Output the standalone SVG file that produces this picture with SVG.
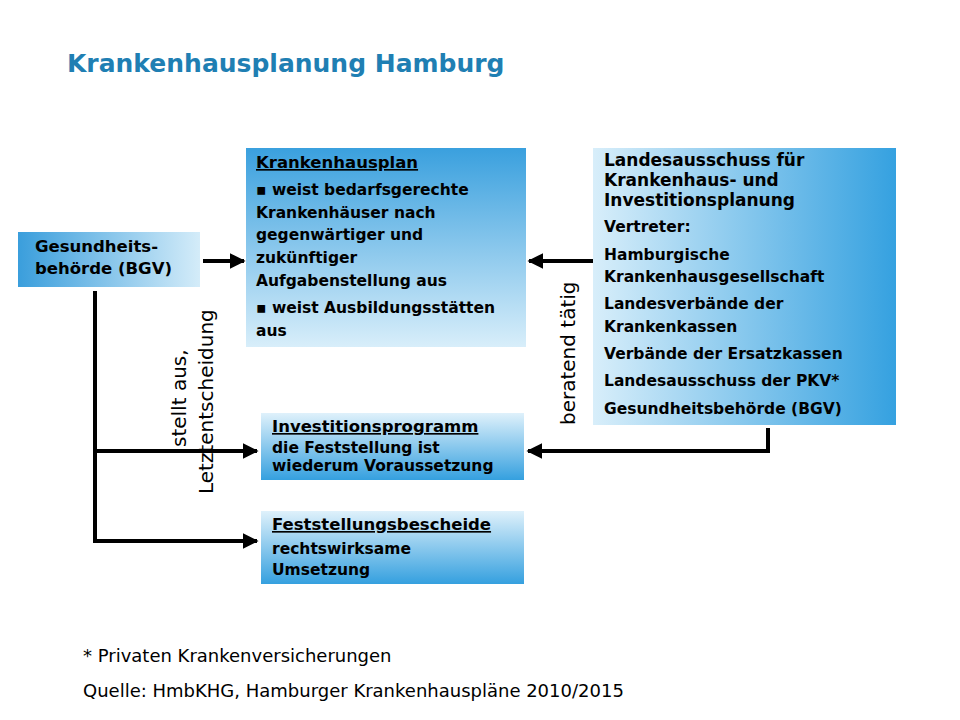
<svg xmlns="http://www.w3.org/2000/svg" width="960" height="720" viewBox="0 0 960 720">
<defs>
<linearGradient id="gh" x1="0" y1="0" x2="1" y2="0"><stop offset="0" stop-color="#3a9edc"/><stop offset="1" stop-color="#d4ecf9"/></linearGradient>
<linearGradient id="ghr" x1="0" y1="0" x2="1" y2="0"><stop offset="0" stop-color="#d8eefa"/><stop offset="1" stop-color="#35a1e0"/></linearGradient>
<linearGradient id="gvd" x1="0" y1="0" x2="0" y2="1"><stop offset="0" stop-color="#3aa0de"/><stop offset="1" stop-color="#d8eefa"/></linearGradient>
<linearGradient id="gvu" x1="0" y1="0" x2="0" y2="1"><stop offset="0" stop-color="#dff1fb"/><stop offset="1" stop-color="#35a0df"/></linearGradient>
<marker id="ah" viewBox="0 0 10 10" refX="9" refY="5" markerWidth="4" markerHeight="4" orient="auto"><path d="M0,0L10,5L0,10z" fill="#000"/></marker>
</defs>
<style>
text{font-family:"DejaVu Sans","Open Sans",sans-serif;fill:#000}
.t{font-size:15.5px;font-weight:bold}
.h{font-size:16.5px;font-weight:bold;text-decoration:underline}
.c{fill:none;stroke:#000;stroke-width:4}
.f{font-size:18px}
.r{font-size:20px}
</style>
<rect width="960" height="720" fill="#fff"/>
<text x="67" y="72" style="font-size:25px;font-weight:bold;fill:#1f7fb3">Krankenhausplanung Hamburg</text>
<g id="gesund"><rect x="18" y="232" width="182" height="55" fill="url(#gh)"/>
<text class="t" x="35" y="252" style="font-size:16.5px">Gesundheits-</text><text class="t" x="35" y="274" style="font-size:16.5px">behörde (BGV)</text></g>
<g id="khplan"><rect x="246" y="148" width="280" height="199" fill="url(#gvd)"/>
<text class="h" x="256" y="168">Krankenhausplan</text>
<text class="t" x="256" y="195">▪ weist bedarfsgerechte</text>
<text class="t" x="256" y="218">Krankenhäuser nach</text>
<text class="t" x="256" y="240">gegenwärtiger und</text>
<text class="t" x="256" y="263">zukünftiger</text>
<text class="t" x="256" y="286">Aufgabenstellung aus</text>
<text class="t" x="256" y="313">▪ weist Ausbildungsstätten</text>
<text class="t" x="256" y="336">aus</text></g>
<g id="landes"><rect x="593" y="148" width="303" height="277" fill="url(#ghr)"/>
<text class="t" x="604" y="166" style="font-size:17px">Landesausschuss für</text>
<text class="t" x="604" y="186" style="font-size:17px">Krankenhaus- und</text>
<text class="t" x="604" y="206" style="font-size:17px">Investitionsplanung</text>
<text class="t" x="604" y="232">Vertreter:</text>
<text class="t" x="604" y="260">Hamburgische</text>
<text class="t" x="604" y="282">Krankenhausgesellschaft</text>
<text class="t" x="604" y="309">Landesverbände der</text>
<text class="t" x="604" y="332">Krankenkassen</text>
<text class="t" x="604" y="359">Verbände der Ersatzkassen</text>
<text class="t" x="604" y="386">Landesausschuss der PKV*</text>
<text class="t" x="604" y="414">Gesundheitsbehörde (BGV)</text></g>
<g id="invest"><rect x="261" y="413" width="263" height="67" fill="url(#gvu)"/>
<text class="h" x="272" y="432">Investitionsprogramm</text>
<text class="t" x="272" y="453">die Feststellung ist</text>
<text class="t" x="272" y="471">wiederum Voraussetzung</text></g>
<g id="fest"><rect x="261" y="511" width="263" height="73" fill="url(#gvu)"/>
<text class="h" x="272" y="530">Feststellungsbescheide</text>
<text class="t" x="272" y="554">rechtswirksame</text>
<text class="t" x="272" y="575">Umsetzung</text></g>
<g id="connectors">
<line class="c" x1="203" y1="261" x2="244" y2="261" marker-end="url(#ah)"/>
<polyline class="c" points="95,291 95,541 257,541" marker-end="url(#ah)"/>
<line class="c" x1="95" y1="451" x2="257" y2="451" marker-end="url(#ah)"/>
<line class="c" x1="593" y1="261" x2="529" y2="261" marker-end="url(#ah)"/>
<polyline class="c" points="768,428 768,451 528,451" marker-end="url(#ah)"/>
<text class="r" transform="translate(186,447) rotate(-90)">stellt aus,</text>
<text class="r" transform="translate(213,494) rotate(-90)">Letztentscheidung</text>
<text class="r" transform="translate(575,425) rotate(-90)">beratend tätig</text>
</g>
<text class="f" x="83" y="662">* Privaten Krankenversicherungen</text>
<text class="f" x="83" y="697">Quelle: HmbKHG, Hamburger Krankenhauspläne 2010/2015</text>
</svg>
